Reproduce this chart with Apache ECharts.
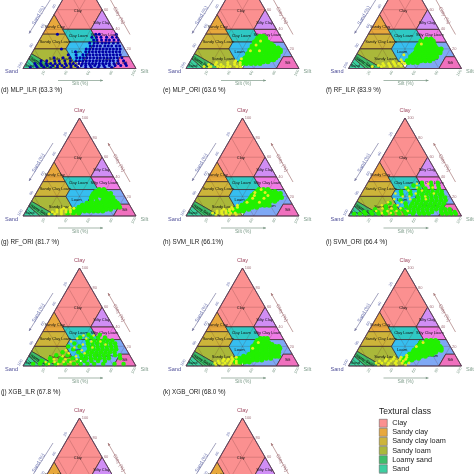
<!DOCTYPE html>
<html><head><meta charset="utf-8">
<style>html,body{margin:0;padding:0;background:#fff;overflow:hidden}#c{width:474px;height:474px}</style>
<script src="https://cdn.jsdelivr.net/npm/echarts@6/dist/echarts.min.js"></script>
</head><body><div id="c"></div>
<script>
// Panel captions
const captions = ['(d) MLP_ILR (63.3 %)','(e) MLP_ORI (63.6 %)','(f) RF_ILR (83.9 %)','(g) RF_ORI (81.7 %)','(h) SVM_ILR (66.1%)','(i) SVM_ORI (66.4 %)','(j) XGB_ILR (67.8 %)','(k) XGB_ORI (68.0 %)','','',''];
const legendTitle = 'Textural class';
const legendNames = ['Clay','Sandy clay','Sandy clay loam','Sandy loam','Loamy sand','Sand','Clay loam'];
const tickValues = [20,40,60,80,100];

// Textural classes: vertices as [silt %, clay %]
const classClay = [[0,100],[0,55],[15,40],[40,40],[40,60]];
const classSandyClay = [[0,55],[0,35],[20,35],[15,40]];
const classSandyClayLoam = [[0,35],[0,20],[28,20],[28,27],[20,35]];
const classSandyLoam = [[0,20],[0,15],[30,0],[50,0],[43,7],[41,7],[28,20]];
const classLoamySand = [[0,15],[0,10],[15,0],[30,0]];
const classSand = [[0,10],[0,0],[15,0]];
const classClayLoam = [[15,40],[20,35],[28,27],[53,27],[40,40]];
const classLoam = [[28,27],[28,20],[41,7],[50,7],[50,27]];
const classSiltLoam = [[50,27],[50,0],[80,0],[80,12],[88,12],[73,27]];
const classSilt = [[80,12],[80,0],[100,0],[88,12]];
const classSiltyClayLoam = [[40,40],[53,27],[73,27],[60,40]];
const classSiltyClay = [[40,60],[40,40],[60,40]];

const classes = [
 ['Clay',classClay,'#FB9090'],['Sandy clay',classSandyClay,'#E8A83C'],['Sandy clay loam',classSandyClayLoam,'#CDB43A'],
 ['Sandy loam',classSandyLoam,'#AAB83A'],['Loamy sand',classLoamySand,'#3DBE6A'],['Sand',classSand,'#3CCFA0'],
 ['Clay loam',classClayLoam,'#2FC9C4'],['Loam',classLoam,'#36BEF0'],['Silt loam',classSiltLoam,'#7FA8F5'],
 ['Silt',classSilt,'#F070BE'],['Silty clay loam',classSiltyClayLoam,'#F07CE6'],['Silty clay',classSiltyClay,'#D08EF5']
];
// Class names drawn inside the triangle: [text, silt, clay, rotation deg]
const classLabels = [['Clay',19,59,0],['Sandy Clay',7,42,0],['Sandy Clay Loam',15,27.5,0],['Sandy Loam',28,9.5,0],['Clay Loam',32,33.7,0],['Loam',39,16.7,0],['Silty Clay',46,47,0],['Silty Clay Loam',55,34,0],['Silt',87,6,0],['Sand',4.5,3,0],['Silt Loam',67,10,0],['Loamy Sand',11,6,-28]];
// Stripes inside the loamy sand class: [silt,clay,silt,clay]
const stripes = [[0,13,21,0],[0,12,18,0],[0,7,10,0],[0,5,7,0]];

// Sample points, one row each: [clay %, silt %, silt %, ...]
const blue_d = [[35,13,47,50,65],[32,45,49,53,58,63,67],[29,48,51,55,59,62,66,70],[26,46,50,53,57,60,63,67,71],[23,48,51,54,57,61,64,67,71,74],[20,24,46,49,52,55,58,61,64,67,70,73,76],[17,38,47,50,53,56,59,62,65,68,71,74,77],[14,33,40,46,49,52,55,58,61,64,67,70,73,76,79],[11,22,30,36,42,45,48,51,54,57,60,63,66,69,72,75,78,82],[8,12,17,24,28,33,38,43,46,49,52,55,58,61,64,67,70,73,76,80,85],[5,8,13,18,22,26,30,35,39,42,47,50,53,56,59,62,65,68,71,74,78,82,88],[3,10,15,20,25,29,33,37,41,45,50,54,58,62,66,70,75,80,85,90],[1,6,12,18,24,30,36,42,48,55,60,66,72,78]];
const green_e = [[33,49,52],[31,48,52,55],[29,48,52,56],[27,47,51,55,59],[25,48,52,56,60,63],[23,47,51,55,59,63,66],[21,48,52,56,60,64,68,71],[19,47,51,55,59,63,67,71,74],[17,48,52,56,60,64,68,72,75],[15,47,51,55,59,63,67,71,74],[13,48,52,56,60,64,68,72,75],[11,47,51,55,59,63,67,71,74],[9,46,50,54,58,62,66,70,73],[7,45,49,53,57,61,65,69],[5,47,51,55,59,63]];
const yellow_e = [[28,52],[24,50],[18,48,56],[10,44],[8,40],[6,24,34,40,45],[4,18,24,29,35,41,46],[2,15,21,27,32,38,44],[1,20,30,36,48]];
const green_f = [[30,54,58],[28,50,54,58,61],[26,51,55,59,62],[24,50,53,57,61,64],[22,50,54,58,62,66],[20,50,53,57,61,65,69,72],[18,52,56,60,64,68,72],[16,51,55,59,63,67,71,73],[14,50,54,58,62,66,70],[12,49,53,57,61,65,69,72],[10,50,54,58,62,66,70],[8,48,52,56,60,64,68],[6,50,54,58]];
const yellow_f = [[25,52],[14,42],[9,42],[7,36,44],[5,28,33,38,42,47],[3,25,30,35,40,45],[2,20,28,36]];
const green_g = [[27,54,58],[25,52,56,60],[23,51,55,59,63,66],[21,51,54,58,62,66],[19,51,55,62,66,70],[17,52,63,67,71],[15,53,58,63,67,71,74],[13,50,54,58,62,66,70,74,77],[11,47,51,55,59,63,67,71,75,79],[9,45,49,53,57,61,65,69,73,77,81],[7,42,46,50,54,58,62,66,70,74],[5,40,44,48,52,56,60,64,68],[3,38,43,48]];
const yellow_g = [[9,37],[8,32,41],[6,27,31,35,39],[4,24,28,32,36,40],[2,22,27,33]];
const green_h = [[27,51,55,59],[25,50,54,58,62,66],[23,49,53,57,61,65,69,72],[21,48,52,56,60,64,68,72],[19,48,52,56,60,64,68,72,75],[17,48,52,56,60,64,68,72],[15,47,51,55,59,63,67,71],[13,46,50,54,58,62,66],[11,44,48,52,56,60,64,68],[9,42,46,50,54,58],[7,40,44,48,52],[5,36,40,44,48]];
const yellow_h = [[27,53],[24,49,58],[21,50,62],[18,50,60],[14,47,58],[11,40],[9,36,41],[7,30,35,38],[5,25,29,33,36],[3,22,26,30,34,38,42],[1,26,32,38,44]];
const green_i = [[34,48,56,62],[31,42,50,58,64],[28,38,48,54,60,66],[25,34,42,50,54,58,62,66,70],[22,36,44,50,54,58,62,66,70,72],[19,52,56,60,64,68,72,76],[16,38,50,54,58,62,66,70,74,78],[13,30,44,50,54,58,62,66,70,74,78],[10,28,36,46,50,54,58,62,66,70,74,78],[7,20,30,38,44,50,54,58,62,66,70,74,78,82,86],[4,12,18,24,30,36,42,48,52,56,60,64,68,72,80,84,88,92],[2,4,9,14,20,26,32,38,44,50,56,62,66,70,82,86,90,94]];
const yellow_i = [[33,44,54],[29,36,46,60],[26,40,52],[23,30,48,64],[20,38,44,58],[17,32,46,60],[14,28,40],[11,24,38],[8,26,34,42],[5,22,32,40,50],[3,28,36]];
const green_j = [[32,42,52],[29,36,46,52,58],[26,44,50,54,58,62,66],[23,34,46,50,54,58,62,66,70],[20,30,40,48,52,56,60,64,68,72],[17,36,50,54,58,62,66,70,74],[14,28,42,50,54,58,62,66,70,74],[11,24,34,46,50,54,58,62,66,70,76,80],[8,20,30,40,48,52,56,60,64,68,72,82],[5,14,22,30,38,46,52,58,64,70],[2,8,14,20,28,36,44,50,56,62,70,80,88]];
const yellow_j = [[31,38,47],[28,34,42],[25,30,48,56],[22,42,62],[19,36,52],[16,30,44],[13,34,48],[10,30,42],[7,24,34,44],[4,18,26,34,40],[2,22,30]];
const green_k = [[28,52,55,58],[26,50,54,58],[24,50,53,57,61],[22,50,54,58,62,65],[20,49,53,57,61,65,69,72],[18,50,54,58,62,66,70,74],[16,51,55,59,63,67,71,74],[14,52,56,60,64,68,72,75],[12,50,54,58,62,66,70,74],[10,46,50,54,58,62,66,70,74,77],[8,43,47,51,55,59,63,67,71],[6,40,44,48,52,56,60,64],[4,42,46,50,54]];
const yellow_k = [[24,52],[18,50],[9,36,40],[7,30,34,38],[5,26,30,34,38,42],[3,24,28,33,38,43],[1,26,32,38]];
const green_l = [[26,56,60,64],[24,52,56,60,64,67],[22,52,56,60,64,68],[20,51,55,59,63,67,71],[18,51,55,59,63,67,71,73],[16,50,54,58,62,66,70,74],[14,50,54,58,62,66,70],[12,48,52,56,60,64,68],[10,47,51,55,59,63],[8,46,50,54,58],[6,45,49,53],[4,48]];
const yellow_l = [[24,54],[20,50],[11,46],[9,36,42,47],[7,30,36,42,47],[5,25,30,35,40,46],[3,23,28,34,40,46,52],[1,26,34,42,50]];

const GREEN='#22F000', YELLOW='#E6F020';
const pointSets = [
 [[blue_d,'#0000A8',3]],[[green_e,GREEN,5],[yellow_e,YELLOW,3]],[[green_f,GREEN,5],[yellow_f,YELLOW,3]],
 [[green_g,GREEN,5],[yellow_g,YELLOW,3]],[[green_h,GREEN,5],[yellow_h,YELLOW,3]],[[green_i,GREEN,4.5],[yellow_i,YELLOW,2.5]],
 [[green_j,GREEN,4.5],[yellow_j,YELLOW,2.5]],[[green_k,GREEN,5],[yellow_k,YELLOW,3]],[[green_l,GREEN,5],[yellow_l,YELLOW,3]],
 [],[]
];

// Layout of panels
const colLeft = [23,186,348.5];
const rowBase = [68.5,216,366,516];
const capLeft = [1,163,326], capMid = [91.5,243,393];
const triW = 113, triH = 98;
const panelAt = [[0,0],[1,0],[2,0],[0,1],[1,1],[2,1],[0,2],[1,2],[2,2],[0,3],[1,3]];

const tern = (silt,clay) => [silt+clay/2, clay*0.866];
const colSand='#6A72B0', colSilt='#7E9C8A', colClay='#A0707A';
const grids=[],xAxes=[],yAxes=[],series=[],titles=[];

panelAt.forEach(([c,r],p)=>{
  grids.push({left:colLeft[c],top:rowBase[r]-triH,width:triW,height:triH,containLabel:false,show:false,outerBoundsMode:'none'});
  xAxes.push({type:'value',gridIndex:p,min:0,max:100,show:false});
  yAxes.push({type:'value',gridIndex:p,min:0,max:86.6,show:false});
  const base={xAxisIndex:p,yAxisIndex:p,silent:true,animation:false};
  classes.forEach(([name,verts,color])=>{
    series.push({...base,type:'custom',name,z:1,itemStyle:{color},data:[tern(...verts[0])],
      renderItem:(pa,api)=>({type:'polygon',shape:{points:verts.map(v=>api.coord(tern(v[0],v[1])))},style:{fill:color,stroke:'#3a2828',lineWidth:0.7}})});
  });
  // inner lines and class names
  series.push({...base,type:'custom',z:2,data:[[0,0]],renderItem:(pa,api)=>{
    const kids=[];
    const seg=(a,b,stroke,w)=>{const s=api.coord(a),e=api.coord(b);kids.push({type:'line',shape:{x1:s[0],y1:s[1],x2:e[0],y2:e[1]},style:{stroke,lineWidth:w}});};
    [20,40,60,80].forEach(v=>{
      seg(tern(0,v),tern(100-v,v),'rgba(90,40,40,.4)',0.5);
      seg(tern(v,0),tern(v,100-v),'rgba(90,40,40,.4)',0.5);
      seg(tern(0,v),tern(v,0),'rgba(90,40,40,.4)',0.5);
    });
    stripes.forEach(s=>seg(tern(s[0],s[1]),tern(s[2],s[3]),'#1a5c33',0.6));
    classLabels.forEach(([t,si,cl,rot])=>{const q=api.coord(tern(si,cl));
      kids.push({type:'text',x:q[0],y:q[1],rotation:rot*Math.PI/180,style:{text:t,fontSize:4,fontFamily:'Liberation Sans',fill:'#111',align:'center',verticalAlign:'middle'}});});
    return {type:'group',children:kids};
  }});
  // sample points
  pointSets[p].forEach(([rows,color,size])=>{
    const pts=[];rows.forEach(row=>row.slice(1).forEach(si=>pts.push(tern(si,row[0]))));
    series.push({...base,type:'scatter',z:3,clip:false,symbol:'circle',symbolSize:size,itemStyle:{color,opacity:1},data:pts});
  });
  // frame, ticks, axis names, arrows
  series.push({...base,type:'custom',z:4,data:[[0,0]],renderItem:(pa,api)=>{
    const kids=[];
    const txt=(t,x,y,fill,size,rot)=>kids.push({type:'text',x,y,rotation:(rot||0)*Math.PI/180,style:{text:t,fontSize:size,fontFamily:'Liberation Sans',fill,align:'center',verticalAlign:'middle'}});
    const A=api.coord(tern(0,0)),B=api.coord(tern(100,0)),C=api.coord(tern(0,100));
    kids.push({type:'polygon',shape:{points:[A,B,C]},style:{fill:'none',stroke:'#5a3a5a',lineWidth:0.8}});
    tickValues.forEach(v=>{
      const cq=api.coord(tern(100-v,v));txt(String(v),cq[0]+(v===100?5.5:4),cq[1],colClay,4);
      const sq=api.coord(tern(0,100-v));txt(String(v),sq[0]-2.8,sq[1]-3.3,colSand,4,60);
      const bq=api.coord(tern(v,0));txt(String(v),bq[0]-2.3,bq[1]+4.5,colSilt,4,60);
    });
    txt('Clay',C[0],C[1]-7.5,'#A04A62',5.6);
    txt('Sand',A[0]-11.5,A[1]+3,'#4F4F98',5.6);
    txt('Silt',B[0]+8.5,B[1]+3,colSilt,5.6);
    const arrow=(x1,y1,x2,y2,stroke)=>{
      const a=Math.atan2(y2-y1,x2-x1),h=3;
      kids.push({type:'line',shape:{x1,y1,x2,y2},style:{stroke,lineWidth:0.7}});
      kids.push({type:'polygon',shape:{points:[[x2,y2],[x2-h*Math.cos(a-.45),y2-h*Math.sin(a-.45)],[x2-h*Math.cos(a+.45),y2-h*Math.sin(a+.45)]]},style:{fill:stroke}});
    };
    const L=A[0],Y=A[1];
    arrow(L+30,Y-73,L+6,Y-35,'#7C7CA4');
    arrow(L+107,Y-34,L+85,Y-73,'#A87A7A');
    arrow(L+35,Y+12,L+80,Y+12,'#7E9A88');
    txt('Sand (%)',L+15.5,Y-53,colSand,5,60);
    txt('Clay (%)',L+96,Y-53,colClay,5,-60);
    txt('Silt (%)',L+57,Y+15.5,colSilt,5);
    return {type:'group',children:kids};
  }});
  if(captions[p]) titles.push({text:captions[p],left:capLeft[c],top:capMid[r]-4,padding:0,textStyle:{fontSize:6.3,fontWeight:'normal',color:'#222',fontFamily:'Liberation Sans'}});
});
titles.push({text:legendTitle,left:379,top:407.5,padding:0,textStyle:{fontSize:8.6,fontWeight:'normal',color:'#222',fontFamily:'Liberation Sans'}});

const chart=echarts.init(document.getElementById('c'),null,{renderer:'canvas'});
chart.setOption({
  backgroundColor:'#fff',animation:false,title:titles,grid:grids,xAxis:xAxes,yAxis:yAxes,series,
  legend:{show:true,orient:'vertical',left:379,top:419,height:120,padding:0,itemGap:0.6,itemWidth:8,itemHeight:8,icon:'rect',selectedMode:false,
    data:legendNames,itemStyle:{borderColor:'#555',borderWidth:0.5},
    textStyle:{fontSize:7.3,lineHeight:8,color:'#222',fontFamily:'Liberation Sans'}}
});
</script></body></html>
